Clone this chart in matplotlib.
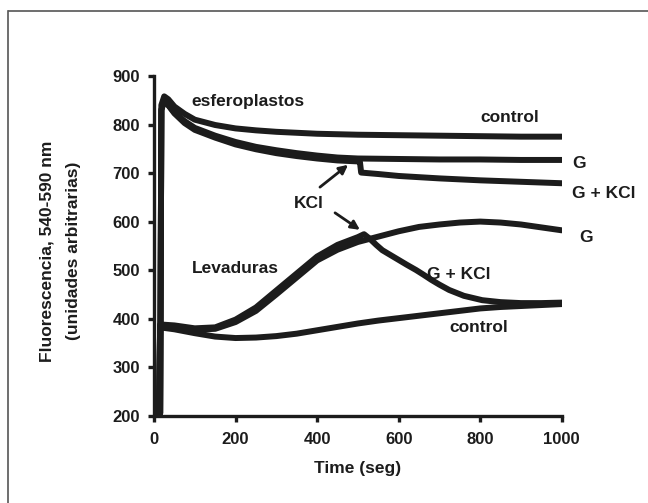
import matplotlib
matplotlib.use("Agg")
import matplotlib.pyplot as plt
from matplotlib.lines import Line2D

# spheroplast traces (esferoplastos)
esf_t = [0, 15, 18, 25, 35, 50, 75, 100, 150, 200, 250, 300, 400, 500, 600, 700, 800, 900, 1000]
esf_control = [205, 205, 840, 858, 852, 837, 822, 810, 799, 792, 788, 785, 781, 779, 778, 777, 776, 775, 775]

esf_g_t = [0, 15, 18, 25, 35, 50, 75, 100, 150, 200, 250, 300, 350, 400, 450, 500,
           600, 700, 800, 900, 1000]
esf_g = [205, 205, 830, 850, 840, 825, 807, 793, 777, 764, 754, 747, 741, 736, 732, 730,
         729, 728, 728, 727, 727]

esf_gk_t = [0, 15, 18, 25, 35, 50, 75, 100, 150, 200, 250, 300, 350, 400, 450, 500, 505,
            508, 550, 600, 700, 800, 900, 1000]
esf_gk = [205, 205, 830, 850, 840, 823, 803, 789, 773, 759, 749, 741, 735, 730, 726, 724, 723,
          701, 698, 694, 689, 685, 682, 679]

# yeast traces (levaduras)
lev_t = [0, 12, 15, 50, 100, 150, 200, 250, 300, 350, 400, 450, 500, 550, 600, 650, 700,
         750, 800, 850, 900, 950, 1000]
lev_control = [205, 205, 382, 378, 370, 363, 360, 361, 364, 369, 376, 383, 390, 396, 401,
               406, 411, 416, 421, 424, 426, 428, 430]
lev_g = [205, 205, 386, 383, 377, 379, 393, 416, 450, 485, 520, 542, 558, 569, 580, 589,
         594, 598, 600, 598, 594, 588, 582]

lev_gk_t = [0, 12, 15, 50, 100, 150, 200, 250, 300, 350, 400, 450, 500, 515, 530, 545, 560,
            580, 600, 620, 643, 660, 680, 700, 724, 760, 805, 850, 900, 950, 1000]
lev_gk = [205, 205, 388, 386, 380, 382, 398, 423, 458, 493, 528, 552, 568, 574, 564, 552, 541,
          531, 521, 511, 500, 491, 480, 470, 459, 447, 438, 434, 432, 432, 433]

x_ticks = [0, 200, 400, 600, 800, 1000]
y_ticks = [200, 300, 400, 500, 600, 700, 800, 900]

INK = "#1c1c1c"
plt.rcParams["font.family"] = ["Liberation Sans", "DejaVu Sans"]
plt.rcParams["font.weight"] = "bold"

fig = plt.figure(figsize=(6.48, 5.03), dpi=100)
fig.patch.set_facecolor("white")
ax = fig.add_axes([0.2377, 0.1736, 0.6292, 0.6753])

for t, v in [(esf_t, esf_control), (esf_g_t, esf_g), (esf_gk_t, esf_gk),
             (lev_t, lev_control), (lev_t, lev_g), (lev_gk_t, lev_gk)]:
    ax.plot(t, v, color=INK, lw=4.3, solid_joinstyle="round", solid_capstyle="round")

ax.set_xlim(0, 1000)
ax.set_ylim(200, 900)
ax.set_xticks(x_ticks)
ax.set_yticks(y_ticks)
for side in ["top", "right"]:
    ax.spines[side].set_visible(False)
for side in ["left", "bottom"]:
    ax.spines[side].set_linewidth(2.4)
    ax.spines[side].set_color(INK)
ax.tick_params(direction="out", length=4, width=2.4, color=INK, labelsize=12,
               labelcolor=INK)
ax.tick_params(axis="y", pad=6)
ax.tick_params(axis="x", pad=8)

ax.set_xlabel("Time (seg)", fontsize=12.5, fontweight="bold", color=INK, labelpad=10)
fig.text(0.0725, 0.501, "Fluorescencia, 540-590 nm", rotation=90, ha="center", va="center",
         fontsize=12.5, fontweight="bold", color=INK)
fig.text(0.1127, 0.501, "(unidades arbitrarias)", rotation=90, ha="center", va="center",
         fontsize=12.5, fontweight="bold", color=INK)

txt = dict(fontsize=12.5, fontweight="bold", color=INK)
ax.text(91, 848, "esferoplastos", ha="left", va="center", **txt)
ax.text(872, 814, "control", ha="center", va="center", **txt)
ax.text(1025, 719, "G", ha="left", va="center", clip_on=False, **txt)
ax.text(1025, 658, "G + KCl", ha="left", va="center", clip_on=False, **txt)
ax.text(380, 638, "KCl", ha="center", va="center", **txt)
ax.text(93, 504, "Levaduras", ha="left", va="center", **txt)
ax.text(1042, 567, "G", ha="left", va="center", clip_on=False, **txt)
ax.text(748, 490, "G + KCl", ha="center", va="center", **txt)
ax.text(796, 381, "control", ha="center", va="center", **txt)

arrow = dict(arrowstyle="-|>", color=INK, lw=2.0, mutation_scale=13, shrinkA=0, shrinkB=0)
ax.annotate("", xy=(476, 717), xytext=(407, 671), arrowprops=arrow)
ax.annotate("", xy=(505, 583), xytext=(444, 618), arrowprops=arrow)

# scanned page frame
fig.add_artist(Line2D([0.0139, 1.0], [0.978, 0.978], color="#555555", lw=1.2))
fig.add_artist(Line2D([0.0123, 0.0123], [0.0, 0.978], color="#555555", lw=1.2))

fig.savefig("out.png", dpi=100, facecolor="white")
